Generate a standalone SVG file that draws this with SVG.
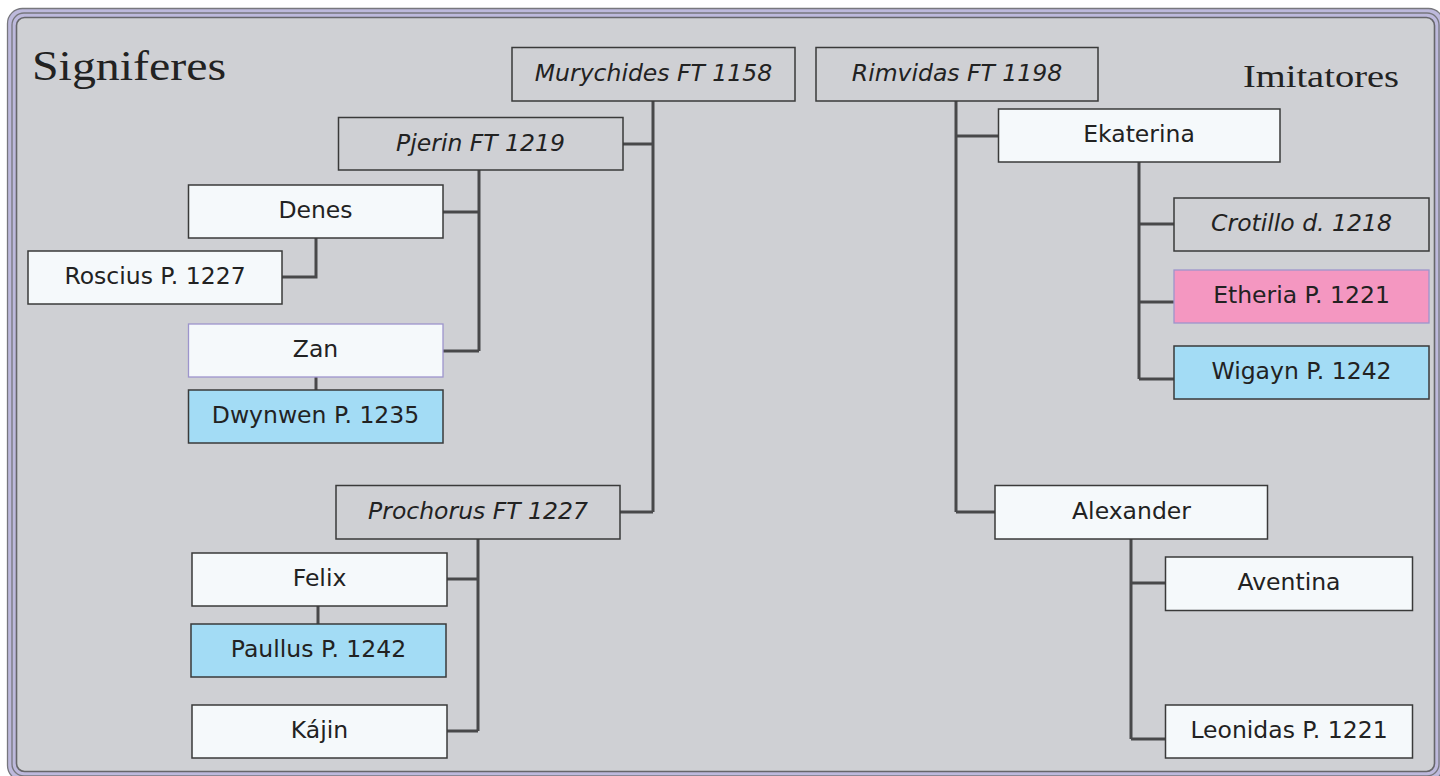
<svg xmlns="http://www.w3.org/2000/svg" width="1440" height="776" viewBox="0 0 1440 776">
<style>
.frame-fill{fill:#cfd0d4;stroke:#bdb9dc;stroke-width:10}
.gl{fill:none;stroke:#77777d;stroke-width:1.3}
.n rect{stroke:#3a3a3a;stroke-width:1.5}
.w{fill:#f5f9fb}
.g{fill:#cfd0d4}
.b{fill:#a3dcf5}
.p{fill:#f497c1}
.n rect.pb{stroke:#9d94cc;stroke-width:1.3}
.n text{font-family:"DejaVu Sans",Verdana,sans-serif;font-size:23.5px;fill:#222;text-anchor:middle}
.n text.i{font-style:italic}
.t{font-family:"Liberation Serif",serif;fill:#222}
#connectors path{fill:none;stroke:#48484a;stroke-width:3}
</style>
<rect width="1440" height="776" fill="#ffffff"/>
<g id="frame">
<rect class="frame-fill" x="12" y="13" width="1427" height="763" rx="12"/>
<rect class="gl" x="7.5" y="8.5" width="1436" height="772" rx="15"/>
<rect class="gl" x="12" y="13" width="1427" height="763" rx="12"/>
<rect class="gl" x="16.5" y="17.5" width="1418" height="754" rx="8" style="stroke:#66666a;stroke-width:1.6"/>
</g>
<text class="t" x="32" y="80" font-size="42" textLength="194" lengthAdjust="spacingAndGlyphs">Signiferes</text>
<text class="t" x="1243" y="87" font-size="32" textLength="156" lengthAdjust="spacingAndGlyphs">Imitatores</text>
<g id="connectors">
<path d="M653 101V512M623 144H653M620 512H653"/>
<path d="M479 170V351M443 212H479M443 351H479"/>
<path d="M316 238V277H282"/>
<path d="M316 377V390"/>
<path d="M478 539V731M447 579H478M447 731H478"/>
<path d="M318 606V624"/>
<path d="M956 101V512M956 136H998M956 512H995"/>
<path d="M1139 162V379M1139 224H1174M1139 302H1174M1139 379H1174"/>
<path d="M1131 539V739M1131 583H1165M1131 739H1165"/>
</g>
<g id="murychides" class="n"><rect class="g" x="512" y="47.5" width="283" height="53.5"/><text class="i" x="653.5" y="81">Murychides FT 1158</text></g>
<g id="rimvidas" class="n"><rect class="g" x="816" y="47.5" width="282" height="53.5"/><text class="i" x="957" y="81">Rimvidas FT 1198</text></g>
<g id="pjerin" class="n"><rect class="g" x="338.5" y="117.5" width="284.5" height="52.5"/><text class="i" x="480.5" y="150.5">Pjerin FT 1219</text></g>
<g id="denes" class="n"><rect class="w" x="188.5" y="185" width="254.5" height="53"/><text x="315.5" y="218">Denes</text></g>
<g id="roscius" class="n"><rect class="w" x="28" y="251" width="254" height="53"/><text x="155" y="284">Roscius P. 1227</text></g>
<g id="zan" class="n"><rect class="w pb" x="188.5" y="324" width="254.5" height="53"/><text x="315.5" y="357">Zan</text></g>
<g id="dwynwen" class="n"><rect class="b" x="188.5" y="390" width="254.5" height="53"/><text x="315.5" y="423">Dwynwen P. 1235</text></g>
<g id="prochorus" class="n"><rect class="g" x="336" y="485.5" width="284" height="53.5"/><text class="i" x="478" y="518.5">Prochorus FT 1227</text></g>
<g id="felix" class="n"><rect class="w" x="192" y="553" width="255" height="53"/><text x="319.5" y="586">Felix</text></g>
<g id="paullus" class="n"><rect class="b" x="191" y="624" width="255" height="53"/><text x="318.5" y="657">Paullus P. 1242</text></g>
<g id="kajin" class="n"><rect class="w" x="192" y="705" width="255" height="53"/><text x="319.5" y="738">Kájin</text></g>
<g id="ekaterina" class="n"><rect class="w" x="998.5" y="109" width="281.5" height="53"/><text x="1139" y="142">Ekaterina</text></g>
<g id="crotillo" class="n"><rect class="g" x="1174" y="198" width="255" height="53"/><text class="i" x="1301.5" y="231">Crotillo d. 1218</text></g>
<g id="etheria" class="n"><rect class="p pb" x="1174" y="270" width="255" height="53"/><text x="1301.5" y="303">Etheria P. 1221</text></g>
<g id="wigayn" class="n"><rect class="b" x="1174" y="346" width="255" height="53"/><text x="1301.5" y="379">Wigayn P. 1242</text></g>
<g id="alexander" class="n"><rect class="w" x="995" y="485.5" width="272.5" height="53.5"/><text x="1131.5" y="518.5">Alexander</text></g>
<g id="aventina" class="n"><rect class="w" x="1165.5" y="557" width="247" height="53.5"/><text x="1289" y="590">Aventina</text></g>
<g id="leonidas" class="n"><rect class="w" x="1165.5" y="705" width="247" height="53"/><text x="1289" y="738">Leonidas P. 1221</text></g>
</svg>
